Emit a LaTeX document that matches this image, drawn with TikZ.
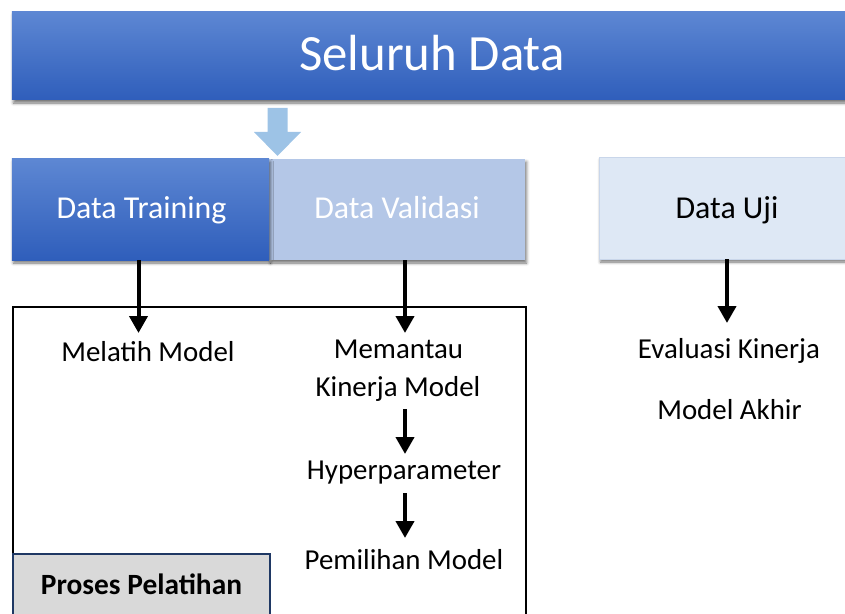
\documentclass[tikz,border=0pt]{standalone}
\usepackage{fontspec}
\setmainfont{Carlito}
\usetikzlibrary{arrows.meta,shadows.blur}
\definecolor{barTop}{HTML}{5D87D3}
\definecolor{barBot}{HTML}{2F5EBB}
\definecolor{valFill}{HTML}{B4C7E7}
\definecolor{ujiFill}{HTML}{DEE8F5}
\definecolor{ujiLine}{HTML}{C9D6EA}
\definecolor{downArrow}{HTML}{9DC3E6}
\definecolor{procFill}{HTML}{D9D9D9}
\definecolor{procLine}{HTML}{1F3864}
\tikzset{
  boxshadow/.style={blur shadow={shadow xshift=1.5bp, shadow yshift=-3bp,
      shadow blur radius=3bp, shadow opacity=55}},
  bluebox/.style={rectangle, inner sep=0pt, top color=barTop, bottom color=barBot,
      boxshadow},
  valbox/.style={rectangle, inner sep=0pt, fill=valFill, boxshadow},
  ujibox/.style={rectangle, inner sep=0pt, fill=ujiFill, draw=ujiLine, line width=0.6bp, boxshadow},
  txt/.style={anchor=base, inner sep=0pt, font=\fontsize{29}{35}\selectfont},
  headtxt/.style={anchor=base, inner sep=0pt, text=white, font=\fontsize{32}{38}\selectfont},
  flowarrow/.style={line width=4bp, -{Triangle[width=18bp,length=17bp]}},
}
\begin{document}
\begin{tikzpicture}[x=1bp,y=-1bp]
\useasboundingbox (0,0) rectangle (845,614);
\clip (0,0) rectangle (845,614);

% whole data bar
\node[bluebox, minimum width=842bp, minimum height=88bp] (all) at (433,56) {};
\node[anchor=base, inner sep=0pt, text=white, font=\fontsize{51}{61}\selectfont]
  (allT) at (432,71) {Seluruh Data};

% split arrow
\fill[downArrow] (267.5,108) -- (287.5,108) -- (287.5,132) -- (301,132) -- (277.5,156)
  -- (254,132) -- (267.5,132) -- cycle;

% training / validation / test boxes
\node[valbox, minimum width=256bp, minimum height=101bp] (val) at (397,209.5) {};
\node[bluebox, minimum width=257bp, minimum height=101bp] (train) at (140.5,209.5) {};
\node[ujibox, minimum width=258bp, minimum height=102bp] (uji) at (728,208) {};
\node[headtxt] (trainT) at (141.5,219) {Data Training};
\node[headtxt] (valT) at (397,219) {Data Validasi};
\node[headtxt, text=black] (ujiT) at (727,219) {Data Uji};

% training process frame
\node[rectangle, draw=black, line width=2bp, minimum width=513bp, minimum height=340bp,
  inner sep=0pt] (frame) at (269.5,477) {};
\node[rectangle, fill=procFill, draw=procLine, line width=2bp, minimum width=257bp,
  minimum height=90bp, inner sep=0pt] (proc) at (141.5,599) {};
\node[txt, font=\fontsize{29.5}{35}\selectfont\bfseries] (procT) at (141.5,594) {Proses Pelatihan};

% step labels
\node[txt] (latih) at (148,361) {Melatih Model};
\node[txt] (pantau) at (398.5,358) {Memantau};
\node[txt] (kinerja) at (398,396) {Kinerja Model};
\node[txt] (hyper) at (404,479) {Hyperparameter};
\node[txt] (pilih) at (404,569) {Pemilihan Model};
\node[txt] (eval) at (729,358) {Evaluasi Kinerja};
\node[txt] (akhir) at (729.5,419) {Model Akhir};

% arrow ends
\coordinate (tipLatih) at (138.5,333);
\coordinate (tipPantau) at (405,333);
\coordinate (tipEval) at (727,323);
\coordinate (topHyper) at (405,409);
\coordinate (tipHyper) at (405,454);
\coordinate (topPilih) at (405,493);
\coordinate (tipPilih) at (405,538);

\draw[flowarrow] (train.south -| tipLatih) -- (tipLatih);
\draw[flowarrow] (val.south -| tipPantau) -- (tipPantau);
\draw[flowarrow] (uji.south -| tipEval) -- (tipEval);
\draw[flowarrow] (topHyper) -- (tipHyper);
\draw[flowarrow] (topPilih) -- (tipPilih);
\end{tikzpicture}
\end{document}
